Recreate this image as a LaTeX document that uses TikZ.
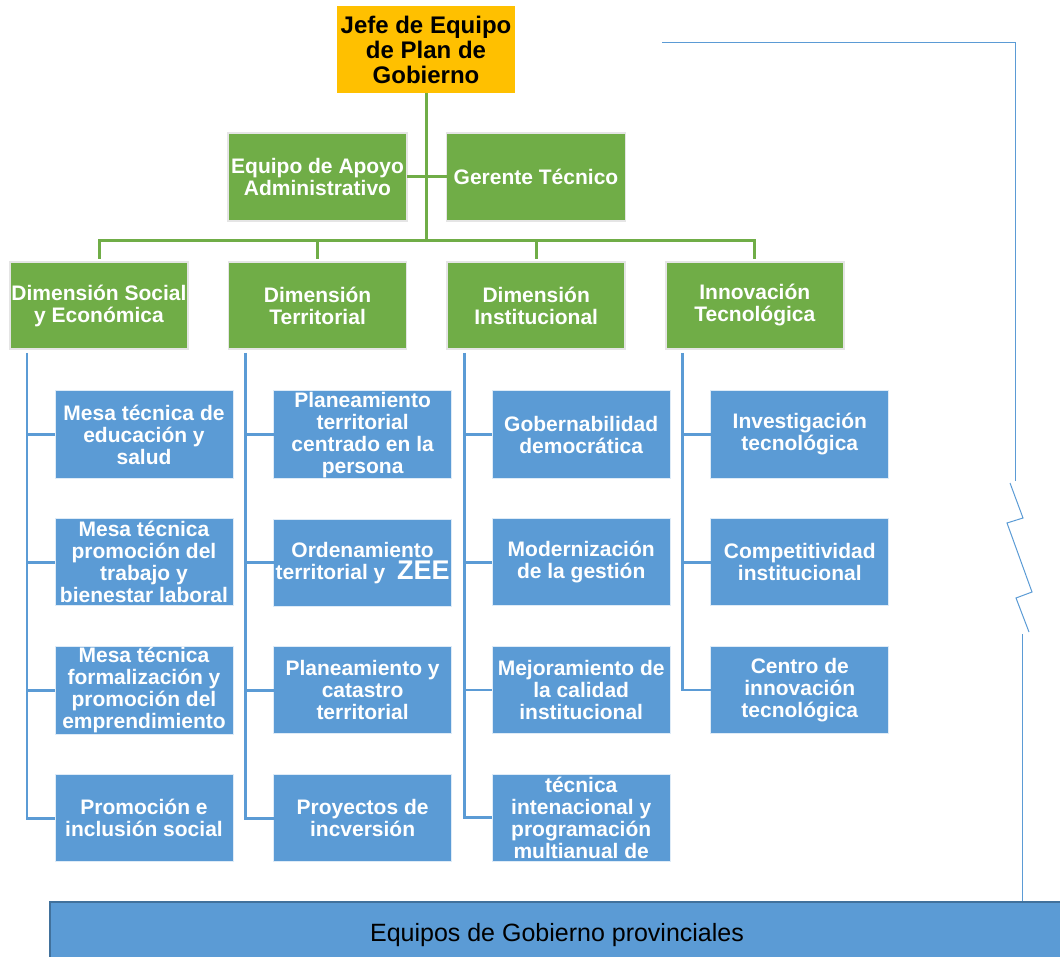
\documentclass[tikz,border=0pt]{standalone}
\usepackage{fontspec}
\setmainfont{Liberation Sans}
\usetikzlibrary{positioning}
\definecolor{jefeorange}{HTML}{FFC000}
\definecolor{areagreen}{HTML}{70AD47}
\definecolor{mesablue}{HTML}{5B9BD5}
\definecolor{barborder}{HTML}{41719C}

\begin{document}
\begin{tikzpicture}[x=1pt,y=-1pt,node distance=40.6pt,
    box/.style={minimum width=178pt,minimum height=87pt,inner sep=1pt,outer sep=0pt,
                align=center,font=\bfseries\fontsize{21}{22}\selectfont},
    jefebox/.style={box,fill=jefeorange,text=black,font=\bfseries\fontsize{24}{25}\selectfont},
    area/.style={box,fill=areagreen,text=white,draw=black!10,line width=1.5pt},
    mesa/.style={box,fill=mesablue,text=white,draw=white!80!mesablue,line width=1pt},
    greenline/.style={draw=areagreen,line width=3pt},
    blueline/.style={draw=mesablue,line width=2.75pt},
    feedline/.style={draw=mesablue,line width=1pt},
    provbar/.style={minimum width=1014pt,minimum height=66pt,inner sep=0pt,fill=mesablue,
                    draw=barborder,line width=1.5pt,font=\fontsize{25}{30}\selectfont}]

    \useasboundingbox (0,0) rectangle (1060,957);

    % top of the chart
    \node[jefebox] (jefe) at (426,49.5) {Jefe de Equipo\\de Plan de\\Gobierno};
    \node[area,minimum width=179pt,minimum height=88pt] (apoyo) at (317.5,177) {Equipo de Apoyo\\Administrativo};
    \node[area,minimum width=179pt,minimum height=88pt] (gerente) at (536,177) {Gerente Técnico};

    % dimensions
    \node[area] (social) at (99,305.5) {Dimensión Social\\y Económica};
    \node[area] (territorial) [right=of social] {Dimensión\\Territorial};
    \node[area] (institucional) [right=of territorial] {Dimensión\\Institucional};
    \node[area] (innovacion) [right=of institucional] {Innovación\\Tecnológica};

    % mesas
    \node[mesa] (social1) [below=42pt of social,xshift=45pt] {Mesa técnica de\\educación y\\salud};
    \node[mesa] (social2) [below=40.7pt of social1] {Mesa técnica\\promoción del\\trabajo y\\bienestar laboral};
    \node[mesa] (social3) [below=40.7pt of social2] {Mesa técnica\\formalización y\\promoción del\\emprendimiento};
    \node[mesa] (social4) [below=40.7pt of social3] {Promoción e\\inclusión social};

    \node[mesa] (territorial1) [below=42pt of territorial,xshift=45pt] {Planeamiento\\territorial\\centrado en la\\persona};
    \node[mesa] (territorial2) [below=40.7pt of territorial1] {Ordenamiento\\territorial y\ \ {\fontsize{27}{22}\selectfont ZEE}};
    \node[mesa] (territorial3) [below=40.7pt of territorial2] {Planeamiento y\\catastro\\territorial};
    \node[mesa] (territorial4) [below=40.7pt of territorial3] {Proyectos de\\incversión};

    \node[mesa] (institucional1) [below=42pt of institucional,xshift=45pt] {Gobernabilidad\\democrática};
    \node[mesa] (institucional2) [below=40.7pt of institucional1] {Modernización\\de la gestión};
    \node[mesa] (institucional3) [below=40.7pt of institucional2] {Mejoramiento de\\la calidad\\institucional};
    \node[mesa] (institucional4) [below=40.7pt of institucional3] {técnica\\intenacional y\\programación\\multianual de};

    \node[mesa] (innovacion1) [below=42pt of innovacion,xshift=45pt] {Investigación\\tecnológica};
    \node[mesa] (innovacion2) [below=40.7pt of innovacion1] {Competitividad\\institucional};
    \node[mesa] (innovacion3) [below=40.7pt of innovacion2] {Centro de\\innovación\\tecnológica};

    \node[provbar] (prov) at (557,935) {Equipos de Gobierno provinciales};

    % green links
    \coordinate (bus) at (426,241);
    \draw[greenline] (jefe) -- (bus);
    \draw[greenline] (apoyo) -- (gerente);
    \draw[greenline] ([yshift=3pt]social.north) |- (bus) -| ([yshift=3pt]innovacion.north);
    \draw[greenline] ([yshift=3pt]territorial.north) -- (territorial.north |- bus);
    \draw[greenline] ([yshift=3pt]institucional.north) -- (institucional.north |- bus);

    % blue links
    \draw[blueline] ([xshift=17pt,yshift=-4pt]social.south west) coordinate (t1) |- (social4)
        (t1 |- social1) -- (social1) (t1 |- social2) -- (social2) (t1 |- social3) -- (social3);
    \draw[blueline] ([xshift=17pt,yshift=-4pt]territorial.south west) coordinate (t2) |- (territorial4)
        (t2 |- territorial1) -- (territorial1) (t2 |- territorial2) -- (territorial2) (t2 |- territorial3) -- (territorial3);
    \draw[blueline] ([xshift=17pt,yshift=-4pt]institucional.south west) coordinate (t3) |- (institucional4)
        (t3 |- institucional1) -- (institucional1) (t3 |- institucional2) -- (institucional2) (t3 |- institucional3) -- (institucional3);
    \draw[blueline] ([xshift=17pt,yshift=-4pt]innovacion.south west) coordinate (t4) |- (innovacion3)
        (t4 |- innovacion1) -- (innovacion1) (t4 |- innovacion2) -- (innovacion2);

    % link to the provincial teams, with a break
    \coordinate (feedtop) at (662,43);
    \coordinate (feedbottom) at (1022,634);
    \draw[feedline] (feedtop) -- (1015,43) -- (1015,481);
    \draw[feedline] (1010,483) -- (1023,518) -- (1007,523) -- (1032,592) -- (1016,598) -- (1029,632);
    \draw[feedline] (feedbottom) -- (feedbottom |- prov.north);
\end{tikzpicture}
\end{document}
